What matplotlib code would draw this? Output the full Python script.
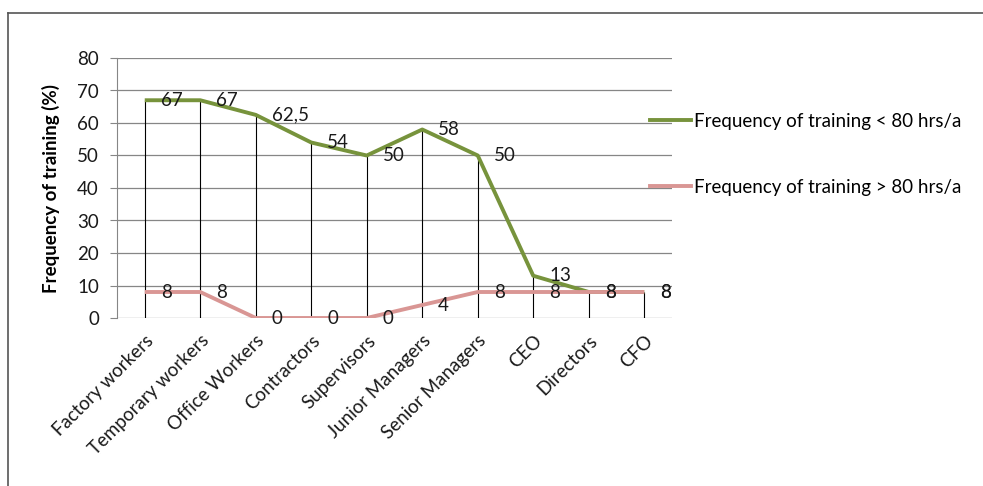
import matplotlib
matplotlib.use("Agg")
import matplotlib.pyplot as plt
from matplotlib.lines import Line2D

plt.rcParams["font.family"] = ["Lato", "DejaVu Sans"]

categories = ["Factory workers", "Temporary workers", "Office Workers", "Contractors",
              "Supervisors", "Junior Managers", "Senior Managers", "CEO", "Directors", "CFO"]
below_80 = [67, 67, 62.5, 54, 50, 58, 50, 13, 8, 8]
above_80 = [8, 8, 0, 0, 0, 4, 8, 8, 8, 8]
series_names = ["Frequency of training < 80 hrs/a", "Frequency of training > 80 hrs/a"]

GREEN = "#77933C"
PINK = "#D99694"
GRID = "#868686"
TXT = "#1a1a1a"
FS = 13.5


def fmt(v):
    s = f"{v:g}"
    return s.replace(".", ",")


fig = plt.figure(figsize=(9.83, 4.86), dpi=100)
W, H = 983, 486
ax = fig.add_axes([117 / W, (H - 318) / H, (672 - 117) / W, (318 - 58) / H])

x = list(range(len(categories)))
ax.set_xlim(-0.5, len(categories) - 0.5)
ax.set_ylim(0, 80)
ax.set_yticks(range(0, 81, 10))
ax.yaxis.grid(True, color=GRID, lw=0.9)
ax.set_axisbelow(True)

# drop lines
tops = [max(a, b) for a, b in zip(below_80, above_80)]
ax.vlines(x, 0, tops, colors="black", lw=0.8, zorder=2)

ax.plot(x, below_80, color=GREEN, lw=2.8, solid_capstyle="butt", zorder=3)
ax.plot(x, above_80, color=PINK, lw=2.8, solid_capstyle="butt", zorder=4)

for series in (below_80, above_80):
    for xi, v in zip(x, series):
        ax.annotate(fmt(v), (xi, v), xytext=(11.5, 0), textcoords="offset points",
                    ha="left", va="center", fontsize=FS, color=TXT, zorder=5)

for s in ["top", "right", "bottom"]:
    ax.spines[s].set_visible(False)
ax.spines["left"].set_color(GRID)
ax.tick_params(axis="y", length=5, color=GRID, labelsize=FS, pad=8, labelcolor=TXT)
ax.tick_params(axis="x", length=0, pad=10, labelsize=FS, labelcolor=TXT)
ax.set_xticks(x)
ax.set_xticklabels(categories, rotation=45, ha="right", rotation_mode="anchor")

ax.set_ylabel("Frequency of training (%)", fontsize=13.5, fontweight="bold", labelpad=12)

handles = [Line2D([], [], color=GREEN, lw=2.8), Line2D([], [], color=PINK, lw=2.8)]
fig.legend(handles, series_names, loc="upper left", bbox_to_anchor=(633 / W, 1 - 96 / H),
           frameon=False, fontsize=FS, handlelength=2.2, handletextpad=0.15,
           labelspacing=2.62)

# outer chart border (top and left edges visible)
fig.add_artist(Line2D([8 / W, 1], [1 - 13 / H, 1 - 13 / H], color="#555555", lw=1.2))
fig.add_artist(Line2D([8 / W, 8 / W], [0, 1 - 13 / H], color="#555555", lw=1.2))

fig.savefig("out.png", dpi=100)
